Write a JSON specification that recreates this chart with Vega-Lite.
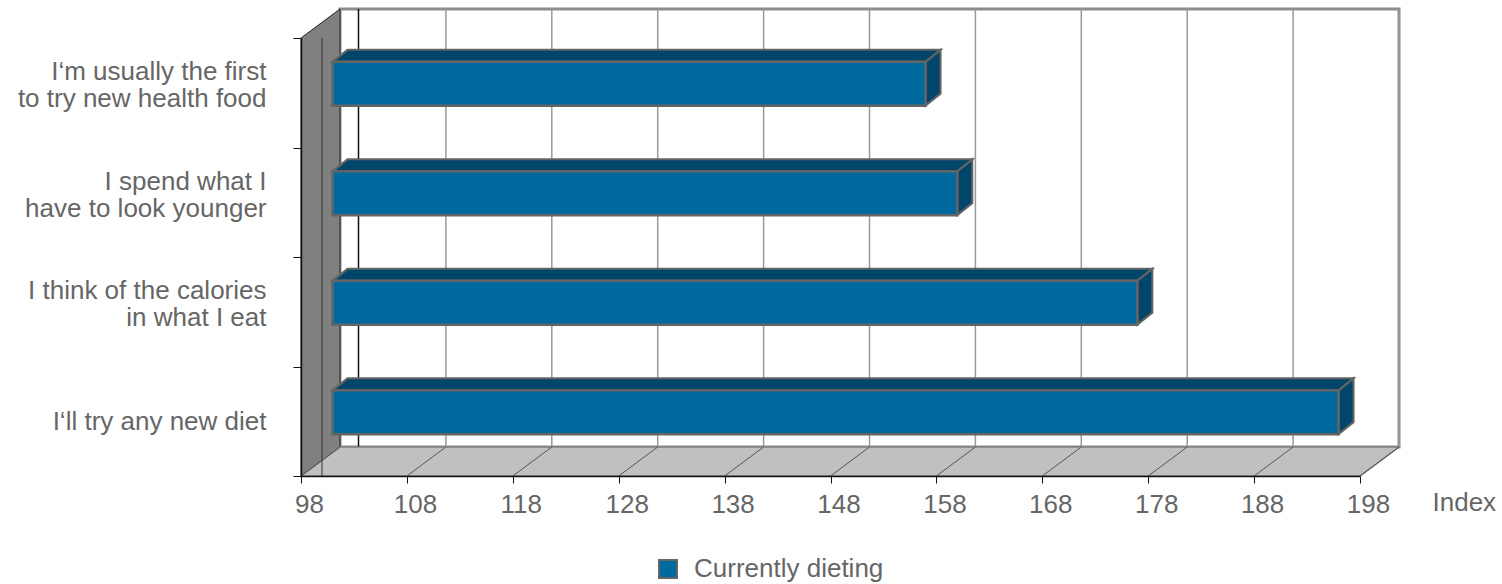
{
  "$schema": "https://vega.github.io/schema/vega-lite/v6.json",
  "width": 1059,
  "height": 438,
  "autosize": {"type": "none"},
  "padding": {"left": 301, "top": 38, "right": 142, "bottom": 108},
  "background": "white",
  "config": {"view": {"stroke": null}, "font": "Liberation Sans"},
  "datasets": {
    "bars": [
      {"statement": "I‘m usually the first to try new health food", "index": 154, "series": "Currently dieting"},
      {"statement": "I spend what I have to look younger", "index": 157, "series": "Currently dieting"},
      {"statement": "I think of the calories in what I eat", "index": 174, "series": "Currently dieting"},
      {"statement": "I‘ll try any new diet", "index": 193, "series": "Currently dieting"}
    ],
    "ticks": [
      {"tick": 98}, {"tick": 108}, {"tick": 118}, {"tick": 128}, {"tick": 138}, {"tick": 148},
      {"tick": 158}, {"tick": 168}, {"tick": 178}, {"tick": 188}, {"tick": 198}
    ],
    "planes": [{"plane": "front"}, {"plane": "back"}]
  },
  "layer": [
    {
      "data": {"name": "planes"},
      "mark": {"type": "rect", "fill": "white", "stroke": "#8c8c8c", "strokeWidth": 3,
               "xOffset": 39, "x2Offset": 39, "yOffset": -29, "y2Offset": -29},
      "transform": [{"filter": "datum.plane == 'back'"}],
      "encoding": {
        "x": {"datum": 98, "type": "quantitative"},
        "x2": {"datum": 198},
        "y": {"value": 0},
        "y2": {"value": "height"}
      }
    },
    {
      "data": {"name": "ticks"},
      "mark": {"type": "rule", "color": "#999999", "strokeWidth": 1.5,
               "xOffset": 39, "yOffset": -29, "y2Offset": -29},
      "encoding": {
        "x": {"field": "tick", "type": "quantitative"},
        "y": {"value": 0},
        "y2": {"value": "height"}
      }
    },
    {
      "data": {"name": "planes"},
      "transform": [{"filter": "datum.plane == 'back'"}],
      "mark": {"type": "rule", "color": "#111111", "strokeWidth": 1.5,
               "xOffset": 57.5, "yOffset": -29, "y2Offset": -29},
      "encoding": {
        "x": {"datum": 98, "type": "quantitative"},
        "y": {"value": 0},
        "y2": {"value": "height"}
      }
    },
    {
      "data": {"name": "planes"},
      "mark": {"type": "area", "orient": "vertical", "fill": "#808080", "stroke": "#222222", "strokeWidth": 1,
               "xOffset": {"expr": "datum.plane == 'back' ? 39 : 0"},
               "yOffset": {"expr": "datum.plane == 'back' ? -29 : 0"},
               "y2Offset": {"expr": "datum.plane == 'back' ? -29 : 0"}},
      "encoding": {
        "x": {"datum": 98, "type": "quantitative"},
        "y": {"value": 0},
        "y2": {"value": "height"}
      }
    },
    {
      "data": {"name": "planes"},
      "mark": {"type": "area", "orient": "horizontal", "fill": "#c0c0c0", "stroke": "#808080", "strokeWidth": 1.5,
               "xOffset": {"expr": "datum.plane == 'back' ? 39 : 0"},
               "x2Offset": {"expr": "datum.plane == 'back' ? 39 : 0"},
               "yOffset": {"expr": "datum.plane == 'back' ? -29 : 0"}},
      "encoding": {
        "y": {"value": "height"},
        "x": {"datum": 98, "type": "quantitative"},
        "x2": {"datum": 198}
      }
    },
    {
      "data": {"name": "ticks"},
      "mark": {"type": "rule", "color": "#555555", "strokeWidth": 1, "x2Offset": 39, "y2Offset": -29},
      "encoding": {
        "x": {"field": "tick", "type": "quantitative"},
        "x2": {"field": "tick"},
        "y": {"value": "height"},
        "y2": {"value": "height"}
      }
    },
    {
      "data": {"name": "planes"},
      "transform": [{"filter": "datum.plane == 'front'"}],
      "mark": {"type": "rule", "color": "#333333", "strokeWidth": 1, "xOffset": 21},
      "encoding": {
        "x": {"datum": 98, "type": "quantitative"},
        "y": {"value": 0},
        "y2": {"value": "height"}
      }
    },
    {
      "data": {"name": "bars"},
      "transform": [{"fold": ["index", "series"], "as": ["plane", "planeValue"]}],
      "mark": {"type": "area", "orient": "horizontal", "fill": "#00466b", "stroke": "#646464", "strokeWidth": 2,
               "xOffset": {"expr": "datum.plane == 'series' ? 46.5 : 31.5"},
               "x2Offset": {"expr": "datum.plane == 'series' ? 46.5 : 31.5"},
               "yOffset": {"expr": "datum.plane == 'series' ? -42.9 : -30.9"}},
      "encoding": {
        "y": {"field": "statement", "type": "nominal", "sort": null},
        "x": {"field": "index", "type": "quantitative", "stack": null},
        "x2": {"datum": 98},
        "detail": {"field": "statement"}
      }
    },
    {
      "data": {"name": "bars"},
      "transform": [{"fold": ["index", "series"], "as": ["plane", "planeValue"]}],
      "mark": {"type": "area", "orient": "vertical", "fill": "#00466b", "stroke": "#646464", "strokeWidth": 2,
               "xOffset": {"expr": "datum.plane == 'series' ? 46.5 : 31.5"},
               "yOffset": {"expr": "datum.plane == 'series' ? -42.9 : -30.9"},
               "y2Offset": {"expr": "datum.plane == 'series' ? 0.9 : 12.9"}},
      "encoding": {
        "x": {"field": "index", "type": "quantitative", "stack": null},
        "y": {"field": "statement", "type": "nominal", "sort": null},
        "y2": {"field": "statement"},
        "detail": {"field": "statement"}
      }
    },
    {
      "data": {"name": "bars"},
      "mark": {"type": "bar", "stroke": "#646464", "strokeWidth": 2.5, "height": {"band": 0.4},
               "xOffset": 31.5, "x2Offset": 31.5, "yOffset": -9, "y2Offset": -9},
      "encoding": {
        "y": {
          "field": "statement", "type": "nominal", "sort": null,
          "scale": {
            "domain": ["I‘m usually the first to try new health food", "I spend what I have to look younger", "I think of the calories in what I eat", "I‘ll try any new diet"],
            "paddingInner": 0, "paddingOuter": 0
          },
          "axis": {
            "title": null, "zindex": 2, "domainColor": "#111111", "domainWidth": 1.5,
            "tickColor": "#111111", "tickSize": 8, "tickBand": "extent",
            "labelFontSize": 26, "labelColor": "#666666", "labelFont": "Liberation Sans",
            "labelPadding": 27, "labelLineHeight": 27, "labelAlign": "right",
            "labelOffset": {"condition": {"test": "datum.value == 'I‘ll try any new diet'", "value": 0}, "value": -21},
            "labelLimit": 0,
            "labelExpr": "datum.value == 'I‘m usually the first to try new health food' ? ['I‘m usually the first', 'to try new health food'] : datum.value == 'I spend what I have to look younger' ? ['I spend what I', 'have to look younger'] : datum.value == 'I think of the calories in what I eat' ? ['I think of the calories', 'in what I eat'] : datum.value"
          }
        },
        "x": {
          "field": "index", "type": "quantitative", "stack": null,
          "scale": {"domain": [98, 198], "nice": false, "zero": false},
          "axis": {
            "values": [98, 108, 118, 128, 138, 148, 158, 168, 178, 188, 198],
            "grid": false, "zindex": 2, "domainColor": "#111111", "domainWidth": 1.5,
            "tickColor": "#111111", "tickSize": 7,
            "labelFontSize": 26, "labelColor": "#666666", "labelFont": "Liberation Sans",
            "labelPadding": 8, "labelOffset": 8, "labelFlush": false, "labelOverlap": false,
            "title": "Index", "titleFontSize": 26, "titleFontWeight": "normal", "titleColor": "#666666",
            "titleFont": "Liberation Sans", "titleX": 1131, "titleY": 34, "titleAlign": "left",
            "titleBaseline": "alphabetic", "titleAnchor": "start"
          }
        },
        "x2": {"datum": 98},
        "color": {
          "field": "series", "type": "nominal",
          "scale": {"range": ["#006a9e"]},
          "legend": {
            "title": null, "orient": "none", "legendX": 354, "legendY": 518,
            "symbolType": "square", "symbolSize": 324, "symbolStrokeColor": "#666666", "symbolStrokeWidth": 2,
            "symbolFillColor": "#005cb8",
            "labelFontSize": 26, "labelColor": "#666666", "labelFont": "Liberation Sans", "labelOffset": 13,
            "labelLimit": 0, "padding": 0
          }
        }
      }
    }
  ]
}
